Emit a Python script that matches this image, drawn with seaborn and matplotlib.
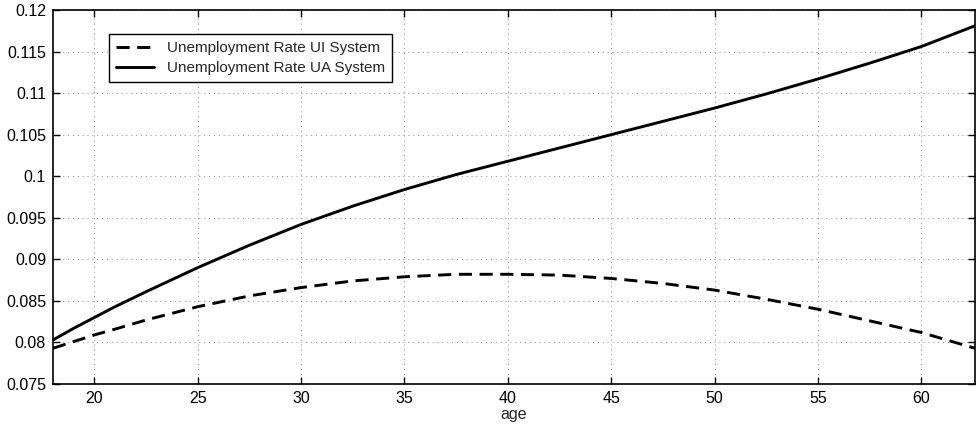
"""Unemployment rate by age under UI and UA systems."""
import numpy as np
import pandas as pd
import matplotlib
matplotlib.use("Agg")
import matplotlib.pyplot as plt
import seaborn as sns

# Values.
age = [18, 19, 20, 21, 22.5, 25, 27.5, 30, 32.5, 35, 37.5, 40, 42.5, 45,
       47.5, 50, 52.5, 55, 57.5, 60, 62.6]
rate_ui = [0.0793, 0.0801, 0.0809, 0.0816, 0.0827, 0.0843, 0.0856, 0.0866,
           0.0874, 0.0879, 0.0882, 0.0882, 0.0881, 0.0877, 0.0871, 0.0863,
           0.0852, 0.0840, 0.0826, 0.0812, 0.0793]
rate_ua = [0.0803, 0.0817, 0.0830, 0.0843, 0.0861, 0.0890, 0.0917, 0.0942,
           0.0964, 0.0984, 0.1002, 0.1018, 0.1034, 0.1050, 0.1066, 0.1082,
           0.1099, 0.1117, 0.1136, 0.1156, 0.1181]
x_ticks = [20, 25, 30, 35, 40, 45, 50, 55, 60]
y_ticks = [0.075, 0.08, 0.085, 0.09, 0.095, 0.1, 0.105, 0.11, 0.115, 0.12]
y_tick_labels = ["0.075", "0.08", "0.085", "0.09", "0.095", "0.1", "0.105",
                 "0.11", "0.115", "0.12"]

sns.set_style("ticks")
plt.rcParams["font.family"] = ["Liberation Sans", "DejaVu Sans"]

df = pd.DataFrame({"age": age, "ui": rate_ui, "ua": rate_ua})

fig = plt.figure(figsize=(9.76, 4.25), dpi=100)
ax = fig.add_axes([53 / 976, 41 / 425, 922 / 976, 374 / 425])

# Draw both series.
sns.lineplot(data=df, x="age", y="ui", color="black",
             linestyle=(0, (4.5, 2.6)), linewidth=2.1,
             label="Unemployment Rate UI System", ax=ax)
sns.lineplot(data=df, x="age", y="ua", color="black", linewidth=2.1,
             label="Unemployment Rate UA System", ax=ax)

# Axes limits, ticks and grid in MATLAB style.
ax.set_xlim(18, 62.6)
ax.set_ylim(0.075, 0.12)
ax.set_xticks(x_ticks)
ax.set_yticks(y_ticks)
ax.set_yticklabels(y_tick_labels)
ax.tick_params(direction="in", top=True, right=True, labelsize=11.5,
               length=5, width=1, colors="black", pad=5)
ax.grid(True, linestyle=(0, (1, 4)), color="#8a8a8a", linewidth=0.7)
for spine in ax.spines.values():
    spine.set_linewidth(1.2)
    spine.set_color("black")
ax.set_xlabel("age", fontsize=11.5, labelpad=1)
ax.set_ylabel("")

leg = ax.legend(loc="upper left", bbox_to_anchor=(0.061, 0.935),
                fontsize=11, frameon=True, fancybox=False,
                handlelength=2.5, handletextpad=0.85, borderpad=0.45,
                labelspacing=0.4, borderaxespad=0)
leg.get_frame().set_edgecolor("black")
leg.get_frame().set_linewidth(1)
leg.get_frame().set_alpha(1)

fig.savefig("out.png", dpi=100)
